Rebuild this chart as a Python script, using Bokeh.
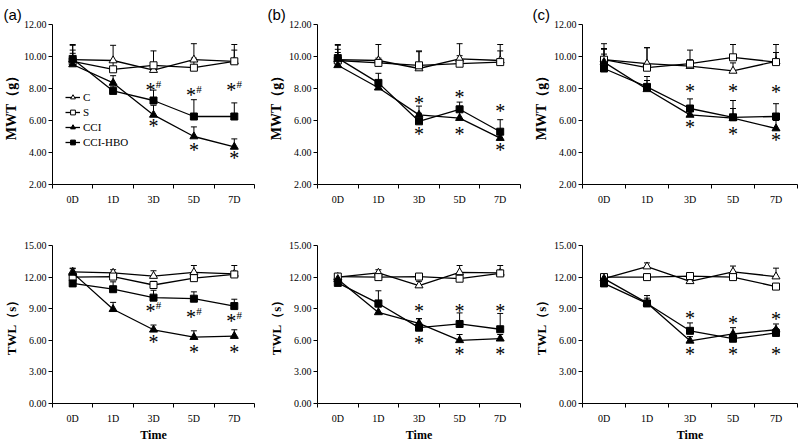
from bokeh.plotting import figure
from bokeh.models import (FixedTicker, PrintfTickFormatter, Whisker, TeeHead,
                          ColumnDataSource, Legend, LegendItem, Range1d)
from bokeh.layouts import gridplot
from bokeh.core.properties import value
from bokeh.embed import file_html
from bokeh.resources import INLINE

DAYS = ["0D", "1D", "3D", "5D", "7D"]
SERIES_NAMES = ["C", "S", "CCI", "CCI-HBO"]
MWT_TICKS = [2, 4, 6, 8, 10, 12]
TWL_TICKS = [0, 3, 6, 9, 12, 15]

# ---- panel (a) MWT
A_MWT_C = [9.8, 9.75, 9.15, 9.8, 9.7]
A_MWT_S = [9.7, 9.2, 9.45, 9.3, 9.7]
A_MWT_CCI = [9.5, 8.35, 6.35, 5.0, 4.35]
A_MWT_HBO = [9.85, 7.85, 7.25, 6.25, 6.25]
A_MWT_C_ERR = [0.9, 0.95, 0.4, 1.0, 0.7]
A_MWT_S_ERR = [0.7, 0.5, 0.9, 0.6, 1.05]
A_MWT_CCI_ERR = [0.7, 0.45, 0.6, 0.6, 0.5]
A_MWT_HBO_ERR = [0.9, 0.3, 0.65, 1.05, 0.85]
A_MWT_MARK_1 = [None, None, 8.05, 7.75, 8.05]   # "*#"
A_MWT_MARK_2 = [None, None, 5.8, 4.3, 3.8]      # "*"

# ---- panel (a) TWL
A_TWL_C = [12.5, 12.4, 12.1, 12.45, 12.3]
A_TWL_S = [12.0, 12.05, 11.25, 11.9, 12.25]
A_TWL_CCI = [12.4, 8.95, 7.0, 6.3, 6.4]
A_TWL_HBO = [11.4, 10.85, 10.05, 9.95, 9.25]
A_TWL_C_ERR = [0.35, 0.3, 0.5, 0.65, 0.8]
A_TWL_S_ERR = [0.4, 0.4, 0.35, 0.4, 0.3]
A_TWL_CCI_ERR = [0.4, 0.65, 0.45, 0.6, 0.6]
A_TWL_HBO_ERR = [0.3, 0.7, 0.7, 0.65, 0.65]
A_TWL_MARK_1 = [None, None, 8.97, 8.36, 8.0]    # "*#"
A_TWL_MARK_2 = [None, None, 6.03, 5.1, 5.1]     # "*"

# ---- panel (b) MWT
B_MWT_C = [9.8, 9.75, 9.25, 9.85, 9.75]
B_MWT_S = [9.75, 9.6, 9.45, 9.55, 9.65]
B_MWT_CCI = [9.45, 8.05, 6.35, 6.15, 4.9]
B_MWT_HBO = [9.9, 8.35, 5.95, 6.7, 5.3]
B_MWT_C_ERR = [0.95, 1.0, 1.1, 0.95, 1.0]
B_MWT_S_ERR = [0.7, 0.3, 0.85, 0.5, 0.7]
B_MWT_CCI_ERR = [0.8, 0.4, 0.55, 0.4, 0.5]
B_MWT_HBO_ERR = [0.8, 0.6, 0.5, 0.45, 0.75]
B_MWT_MARK_1 = [None, None, 7.2, 7.6, 6.75]     # "*"
B_MWT_MARK_2 = [None, None, 5.3, 5.3, 4.3]      # "*"

# ---- panel (b) TWL
B_TWL_C = [12.0, 12.4, 11.2, 12.45, 12.4]
B_TWL_S = [12.05, 12.0, 12.05, 11.85, 12.35]
B_TWL_CCI = [11.8, 8.65, 7.6, 6.0, 6.15]
B_TWL_HBO = [11.45, 9.5, 7.2, 7.55, 7.05]
B_TWL_C_ERR = [0.3, 0.3, 0.4, 0.65, 0.7]
B_TWL_S_ERR = [0.3, 0.3, 0.3, 0.3, 0.3]
B_TWL_CCI_ERR = [0.4, 0.5, 0.45, 0.55, 0.4]
B_TWL_HBO_ERR = [0.4, 1.2, 0.85, 1.05, 1.5]
B_TWL_MARK_1 = [None, None, 9.0, 9.0, 9.0]      # "*"
B_TWL_MARK_2 = [None, None, 5.9, 4.9, 4.9]      # "*"

# ---- panel (c) MWT
C_MWT_C = [9.8, 9.55, 9.4, 9.1, 9.7]
C_MWT_S = [9.8, 9.3, 9.55, 9.95, 9.65]
C_MWT_CCI = [9.65, 7.95, 6.35, 6.15, 5.5]
C_MWT_HBO = [9.25, 8.1, 6.75, 6.2, 6.25]
C_MWT_C_ERR = [1.0, 1.0, 0.4, 0.5, 1.05]
C_MWT_S_ERR = [0.7, 1.25, 0.85, 0.8, 0.6]
C_MWT_CCI_ERR = [0.8, 0.8, 0.5, 0.6, 0.5]
C_MWT_HBO_ERR = [0.9, 0.4, 0.6, 1.05, 0.8]
C_MWT_MARK_1 = [None, None, 8.0, 8.0, 7.9]      # "*"
C_MWT_MARK_2 = [None, None, 5.7, 5.3, 4.9]      # "*"

# ---- panel (c) TWL
C_TWL_C = [11.85, 13.0, 11.6, 12.5, 12.05]
C_TWL_S = [12.0, 12.0, 12.1, 12.0, 11.1]
C_TWL_CCI = [11.85, 9.55, 5.95, 6.6, 7.0]
C_TWL_HBO = [11.4, 9.5, 6.9, 6.15, 6.7]
C_TWL_C_ERR = [0.3, 0.35, 0.3, 0.55, 0.8]
C_TWL_S_ERR = [0.3, 0.3, 0.3, 0.3, 0.3]
C_TWL_CCI_ERR = [0.3, 0.7, 0.4, 0.6, 0.55]
C_TWL_HBO_ERR = [0.3, 0.5, 0.75, 0.4, 0.4]
C_TWL_MARK_1 = [None, None, 8.3, 7.8, 8.2]      # "*"
C_TWL_MARK_2 = [None, None, 4.9, 4.9, 4.9]      # "*"

SERIF = "Liberation Serif"
BLACK = "#000000"
STYLES = [("triangle", False, 8), ("square", False, 7),
          ("triangle", True, 8), ("square", True, 7)]


def panel(ylim, yticks, ylabel, vals, errs, marks, w, h, mbl, mbr, mbt, mbb,
          title=None, time_label=False, legend=None, ylabel_size="14px"):
    p = figure(width=w, height=h, x_range=Range1d(-0.5, len(DAYS) - 0.5),
               y_range=Range1d(*ylim), output_backend="svg",
               toolbar_location=None, min_border_left=mbl, min_border_right=mbr,
               min_border_top=mbt, min_border_bottom=mbb)
    p.grid.visible = False
    p.outline_line_color = None
    p.background_fill_color = "white"
    if title:
        p.title.text = title
        p.title.align = "left"
        p.title.offset = -mbl
        p.title.text_font = "Liberation Sans"
        p.title.text_font_size = "15px"
        p.title.text_font_style = "normal"
        p.title.text_color = BLACK
        p.title.standoff = 0
        p.title.vertical_align = "top"
    xs = list(range(len(DAYS)))
    items = []
    for (v, e, name, (mk, filled, sz)) in zip(vals, errs, SERIES_NAMES, STYLES):
        src = ColumnDataSource(dict(x=xs, y=v, top=[a + b for a, b in zip(v, e)]))
        rl = p.line("x", "y", source=src, line_color=BLACK, line_width=1.3)
        p.add_layout(Whisker(base="x", upper="top", lower="y", source=src,
                             dimension="height", line_color=BLACK, line_width=1,
                             upper_head=TeeHead(size=6, line_color=BLACK, line_width=1),
                             lower_head=None))
        rs = p.scatter("x", "y", source=src, marker=mk, size=sz,
                       fill_color=BLACK if filled else "white",
                       line_color=BLACK, line_width=1)
        items.append(LegendItem(label=name, renderers=[rl, rs]))
    for ys, txt in marks:
        mx = [x for x, y in zip(xs, ys) if y is not None]
        my = [y for y in ys if y is not None]
        off = -3 if txt == "*#" else 0
        p.text(x=mx, y=my, text=["*"] * len(mx), text_font=value(SERIF),
               text_font_size="20px", text_align="center", text_baseline="middle",
               x_offset=off, y_offset=2, text_color=BLACK)
        if txt == "*#":
            p.text(x=mx, y=my, text=["#"] * len(mx), text_font=value(SERIF),
                   text_font_size="11px", text_align="center", text_baseline="middle",
                   x_offset=off + 8, y_offset=-4, text_color=BLACK)
    if legend:
        lg = Legend(items=items, location=legend, border_line_color=None,
                    background_fill_alpha=0, label_text_font=SERIF,
                    label_text_font_size="11px", label_text_color=BLACK,
                    glyph_width=15, glyph_height=12,
                    label_height=12, spacing=3, padding=0, margin=0,
                    label_standoff=3)
        p.add_layout(lg)

    ya = p.yaxis[0]
    ya.ticker = FixedTicker(ticks=yticks)
    ya.formatter = PrintfTickFormatter(format="%.2f")
    ya.major_tick_out = 4
    ya.major_tick_in = 0
    ya.minor_tick_line_color = None
    ya.major_label_text_font = SERIF
    ya.major_label_text_font_size = "10px"
    ya.major_label_text_color = BLACK
    ya.major_label_standoff = 2
    ya.axis_label = ylabel
    ya.axis_label_text_font = SERIF
    ya.axis_label_text_font_style = "bold"
    ya.axis_label_text_font_size = ylabel_size
    ya.axis_label_text_color = BLACK
    ya.axis_label_standoff = 2
    ya.axis_line_color = BLACK
    ya.major_tick_line_color = BLACK

    xa = p.xaxis[0]
    xa.ticker = FixedTicker(ticks=xs, minor_ticks=[i - 0.5 for i in range(len(DAYS) + 1)])
    xa.major_label_overrides = {i: d for i, d in enumerate(DAYS)}
    xa.major_tick_out = 0
    xa.major_tick_in = 0
    xa.minor_tick_out = 4
    xa.minor_tick_in = 0
    xa.minor_tick_line_color = BLACK
    xa.major_label_text_font = SERIF
    xa.major_label_text_font_size = "10px"
    xa.major_label_text_color = BLACK
    xa.major_label_standoff = 5
    xa.axis_line_color = BLACK
    if time_label:
        xa.axis_label = "Time"
        xa.axis_label_text_font = SERIF
        xa.axis_label_text_font_style = "bold"
        xa.axis_label_text_font_size = "12px"
        xa.axis_label_text_color = BLACK
        xa.axis_label_standoff = 1
    return p


def grp(c, s, cci, hbo):
    return [c, s, cci, hbo]


MWT_LABEL = "MWT（g）"
TWL_LABEL = "TWL（s）"

pa1 = panel((2, 12), MWT_TICKS, MWT_LABEL,
            grp(A_MWT_C, A_MWT_S, A_MWT_CCI, A_MWT_HBO),
            grp(A_MWT_C_ERR, A_MWT_S_ERR, A_MWT_CCI_ERR, A_MWT_HBO_ERR),
            [(A_MWT_MARK_1, "*#"), (A_MWT_MARK_2, "*")],
            265, 222, 49, 11, 24, 38, title="(a)", legend=(13, 36))
pb1 = panel((2, 12), MWT_TICKS, MWT_LABEL,
            grp(B_MWT_C, B_MWT_S, B_MWT_CCI, B_MWT_HBO),
            grp(B_MWT_C_ERR, B_MWT_S_ERR, B_MWT_CCI_ERR, B_MWT_HBO_ERR),
            [(B_MWT_MARK_1, "*"), (B_MWT_MARK_2, "*")],
            265, 222, 50, 10, 22, 38, title="(b)")
pc1 = panel((2, 12), MWT_TICKS, MWT_LABEL,
            grp(C_MWT_C, C_MWT_S, C_MWT_CCI, C_MWT_HBO),
            grp(C_MWT_C_ERR, C_MWT_S_ERR, C_MWT_CCI_ERR, C_MWT_HBO_ERR),
            [(C_MWT_MARK_1, "*"), (C_MWT_MARK_2, "*")],
            270, 222, 50, 3, 21, 37, title="(c)")
pa2 = panel((0, 15), TWL_TICKS, TWL_LABEL,
            grp(A_TWL_C, A_TWL_S, A_TWL_CCI, A_TWL_HBO),
            grp(A_TWL_C_ERR, A_TWL_S_ERR, A_TWL_CCI_ERR, A_TWL_HBO_ERR),
            [(A_TWL_MARK_1, "*#"), (A_TWL_MARK_2, "*")],
            265, 224, 44, 11, 23, 38, time_label=True, ylabel_size="13px")
pb2 = panel((0, 15), TWL_TICKS, TWL_LABEL,
            grp(B_TWL_C, B_TWL_S, B_TWL_CCI, B_TWL_HBO),
            grp(B_TWL_C_ERR, B_TWL_S_ERR, B_TWL_CCI_ERR, B_TWL_HBO_ERR),
            [(B_TWL_MARK_1, "*"), (B_TWL_MARK_2, "*")],
            265, 224, 47, 10, 21, 40, time_label=True, ylabel_size="13px")
pc2 = panel((0, 15), TWL_TICKS, TWL_LABEL,
            grp(C_TWL_C, C_TWL_S, C_TWL_CCI, C_TWL_HBO),
            grp(C_TWL_C_ERR, C_TWL_S_ERR, C_TWL_CCI_ERR, C_TWL_HBO_ERR),
            [(C_TWL_MARK_1, "*"), (C_TWL_MARK_2, "*")],
            270, 224, 51, 3, 15, 43, time_label=True, ylabel_size="13px")

grid = gridplot([[pa1, pb1, pc1], [pa2, pb2, pc2]], toolbar_location=None)
open("out.html", "w").write(file_html(grid, INLINE))
